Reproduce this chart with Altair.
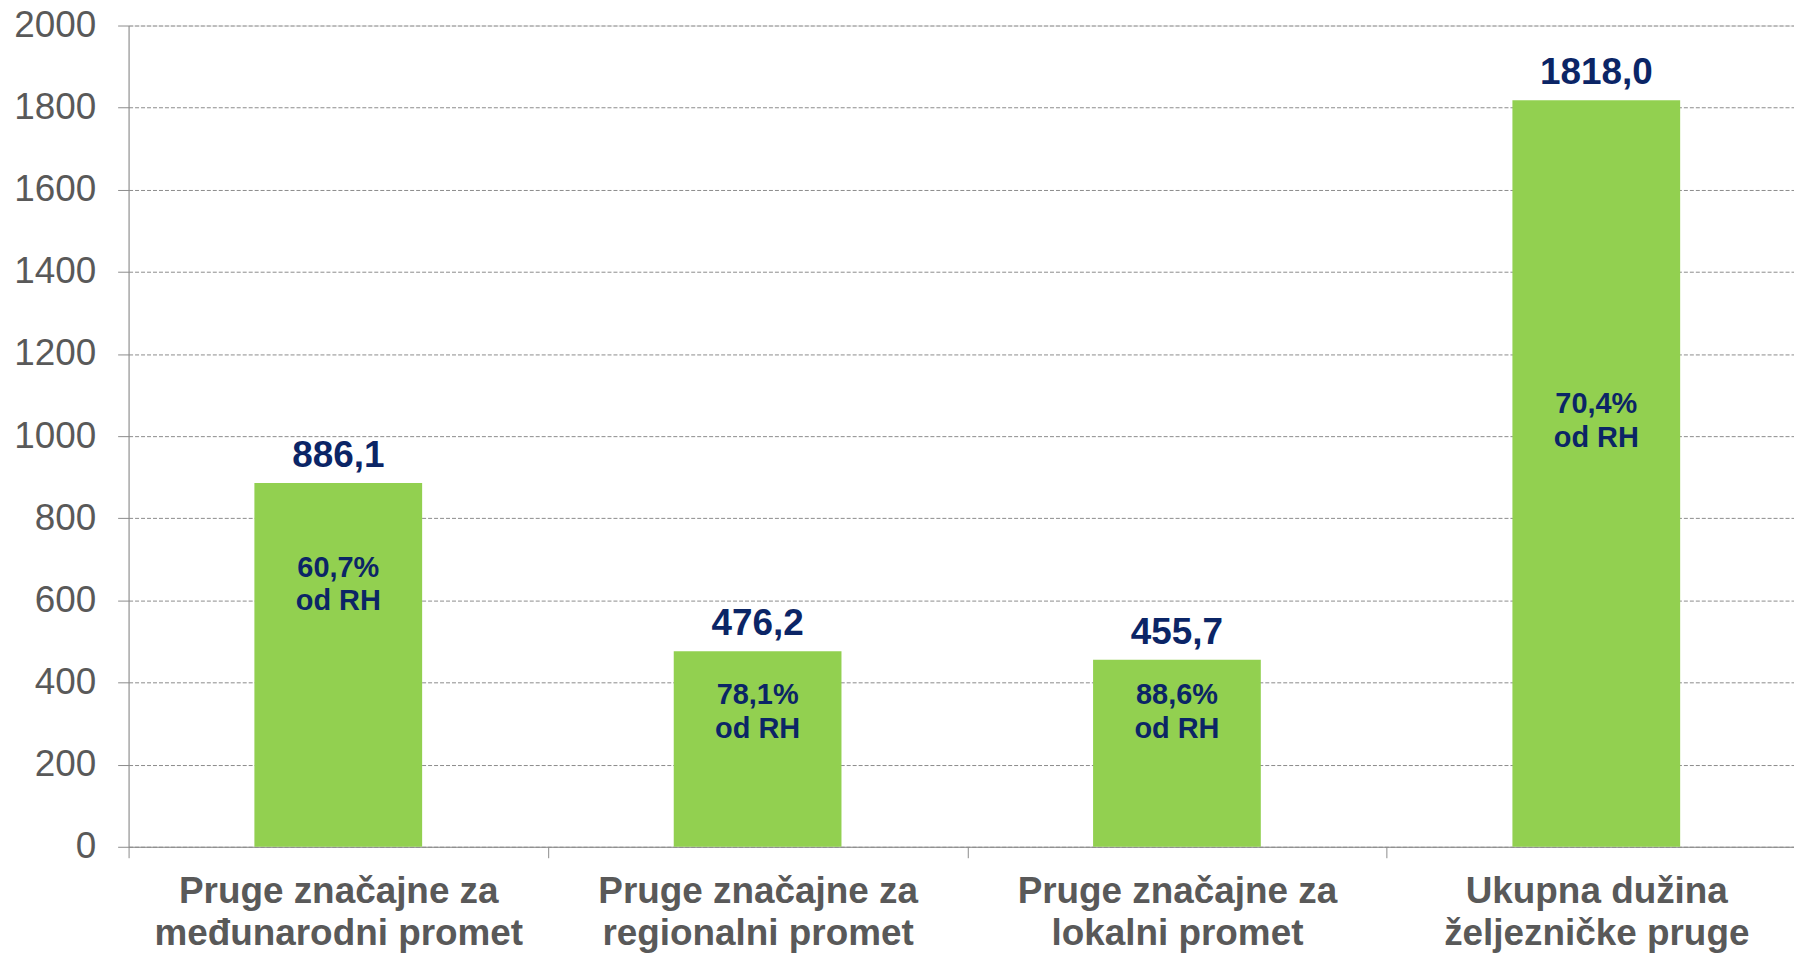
import altair as alt
import pandas as pd

categories = [
    "Pruge značajne za\nmeđunarodni promet",
    "Pruge značajne za\nregionalni promet",
    "Pruge značajne za\nlokalni promet",
    "Ukupna dužina\nželjezničke pruge",
]
lengths = [886.1, 476.2, 455.7, 1818.0]
value_labels = ["886,1", "476,2", "455,7", "1818,0"]
share_labels = ["60,7%\nod RH", "78,1%\nod RH", "88,6%\nod RH", "70,4%\nod RH"]
share_anchor = [658, 347, 347, 1056]
y_ticks = [0, 200, 400, 600, 800, 1000, 1200, 1400, 1600, 1800, 2000]

df = pd.DataFrame({
    "cat": categories,
    "len": lengths,
    "vlabel": value_labels,
    "slabel": share_labels,
    "sanchor": share_anchor,
})

GRAY = "#8c8c8c"
TEXT_GRAY = "#595959"
NAVY = "#0b2566"
FONT = "Liberation Sans"

x_enc = alt.X(
    "cat:N",
    sort=None,
    title=None,
    scale=alt.Scale(paddingInner=0, paddingOuter=0, range=[0, 1683]),
    axis=alt.Axis(
        tickBand="extent",
        tickSize=11,
        tickColor=GRAY,
        domainColor=GRAY,
        labelAngle=0,
        labelFont=FONT,
        labelFontSize=37,
        labelFontWeight="bold",
        labelColor=TEXT_GRAY,
        labelPadding=16,
        labelLineHeight=42,
        labelLimit=0,
        labelExpr="split(datum.label, '\\n')",
        grid=False,
    ),
)

bars = alt.Chart(df).mark_bar(color="#92D050", width=alt.RelativeBandSize(0.4)).encode(
    x=x_enc,
    y=alt.Y(
        "len:Q",
        title=None,
        scale=alt.Scale(domain=[0, 2000], nice=False),
        axis=alt.Axis(
            values=y_ticks,
            format="d",
            tickSize=11,
            tickColor=GRAY,
            domainColor=GRAY,
            labelFont=FONT,
            labelFontSize=37,
            labelColor=TEXT_GRAY,
            labelPadding=22,
            grid=True,
            gridColor=GRAY,
            gridDash=[4, 2],
            gridWidth=1,
        ),
    ),
)

values = alt.Chart(df).mark_text(
    font=FONT, fontSize=37, fontWeight="bold", color=NAVY,
    baseline="alphabetic", align="center", dy=-16,
).encode(
    x=alt.X("cat:N", sort=None),
    y=alt.Y("len:Q"),
    text="vlabel:N",
)

shares = alt.Chart(df).mark_text(
    font=FONT, fontSize=29, fontWeight="bold", color=NAVY,
    baseline="alphabetic", align="center", lineBreak="\n", lineHeight=34,
).encode(
    x=alt.X("cat:N", sort=None),
    y=alt.Y("sanchor:Q"),
    text="slabel:N",
)

chart = alt.layer(bars, values, shares).properties(
    width=1671,
    height=824,
    autosize=alt.AutoSizeParams(type="none"),
    padding={"left": 121, "top": 16, "right": 0, "bottom": 107},
).configure_view(stroke=None).configure(background="white")

chart.save("out.html", embed_options={"renderer": "svg", "actions": False})
